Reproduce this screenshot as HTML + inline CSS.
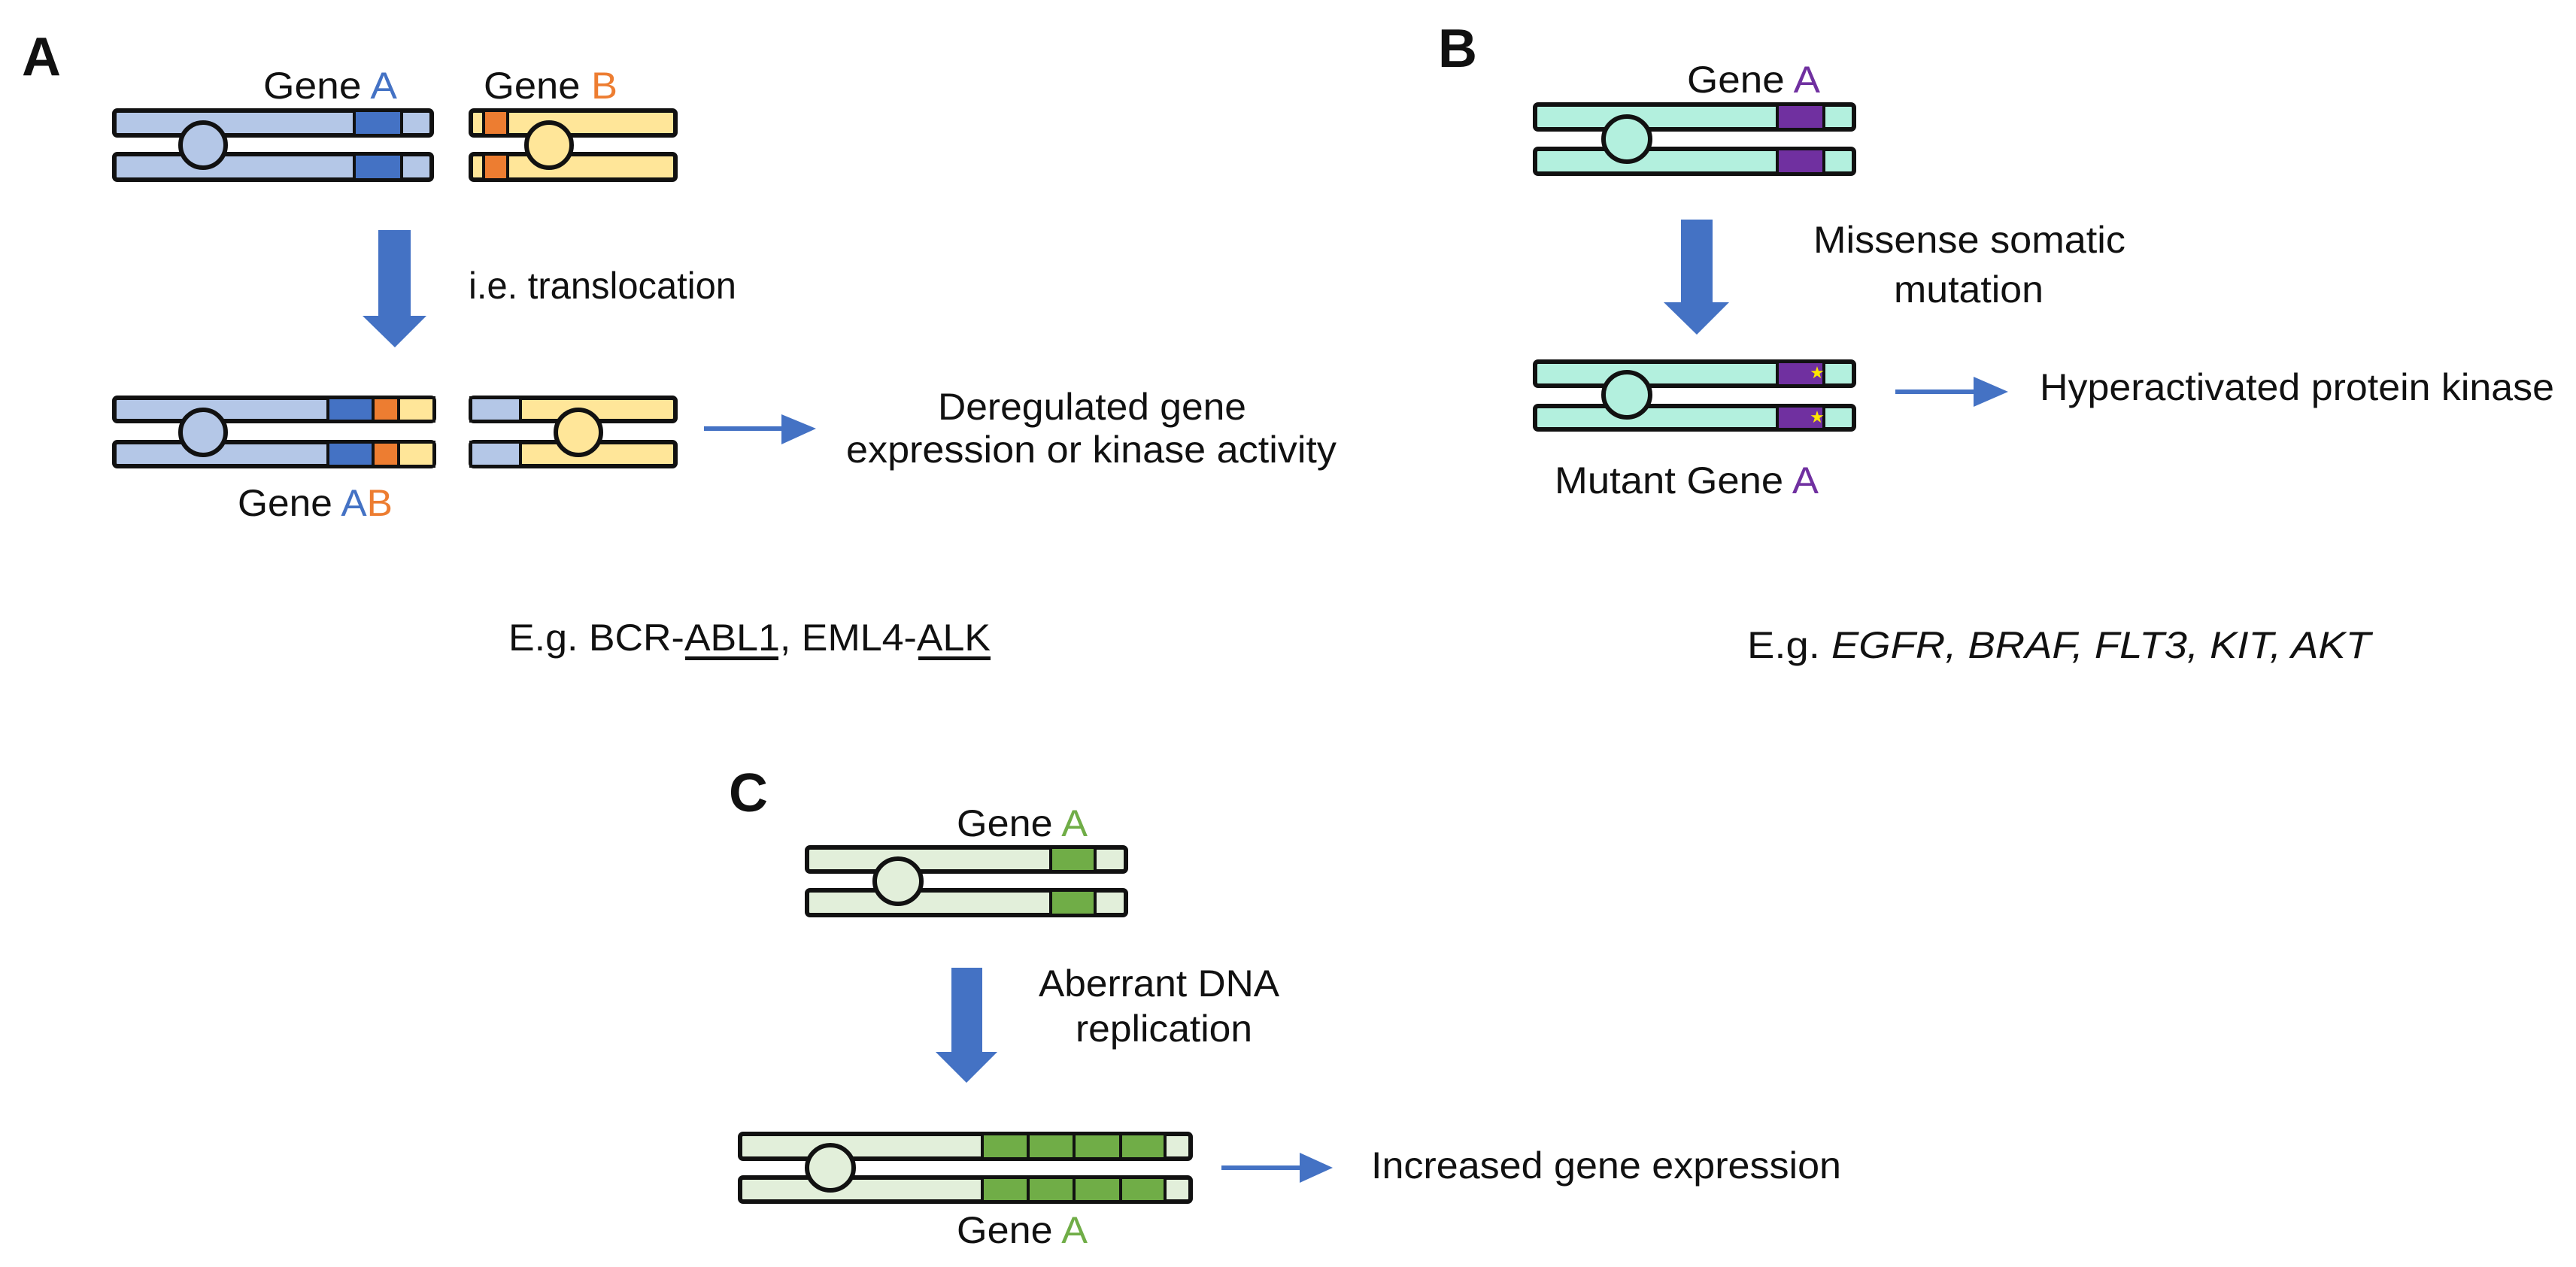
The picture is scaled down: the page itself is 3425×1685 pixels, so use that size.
<!DOCTYPE html>
<html><head><meta charset="utf-8"><style>html,body{margin:0;padding:0;background:#fff;}svg{display:block}</style></head>
<body>
<svg width="3425" height="1685" viewBox="0 0 3425 1685" xmlns="http://www.w3.org/2000/svg" font-family="Liberation Sans, Arial, sans-serif">
<rect width="3425" height="1685" fill="#fff"/>
<defs>
<marker id="ah" markerWidth="10" markerHeight="10" refX="0" refY="5" orient="auto" markerUnits="userSpaceOnUse"></marker>
</defs>
<g stroke="#111" stroke-width="6">
<!-- Panel A top: gene A -->
<rect x="152" y="147" width="422" height="33" rx="4" fill="#b4c7e7"/>
<rect x="152" y="205" width="422" height="34" rx="4" fill="#b4c7e7"/>
<rect x="471" y="147" width="63" height="33" fill="#4472c4" stroke-width="4"/>
<rect x="471" y="205" width="63" height="34" fill="#4472c4" stroke-width="4"/>
<ellipse cx="270" cy="193" rx="30" ry="30" fill="#b4c7e7"/>
<!-- gene B -->
<rect x="626" y="147" width="272" height="33" rx="4" fill="#ffe699"/>
<rect x="626" y="205" width="272" height="34" rx="4" fill="#ffe699"/>
<rect x="643" y="147" width="32" height="33" fill="#ed7d31" stroke-width="4"/>
<rect x="643" y="205" width="32" height="34" fill="#ed7d31" stroke-width="4"/>
<ellipse cx="730" cy="193" rx="30" ry="30" fill="#ffe699"/>
<!-- Panel A bottom -->
<rect x="152" y="529" width="425" height="31" rx="4" fill="#b4c7e7"/>
<rect x="152" y="588" width="425" height="32" rx="4" fill="#b4c7e7"/>
<rect x="436" y="529" width="60" height="31" fill="#4472c4" stroke-width="4"/>
<rect x="436" y="588" width="60" height="32" fill="#4472c4" stroke-width="4"/>
<rect x="496" y="529" width="34" height="31" fill="#ed7d31" stroke-width="4"/>
<rect x="496" y="588" width="34" height="32" fill="#ed7d31" stroke-width="4"/>
<rect x="530" y="529" width="47" height="31" fill="#ffe699" stroke-width="4"/>
<rect x="530" y="588" width="47" height="32" fill="#ffe699" stroke-width="4"/>
<ellipse cx="270" cy="575" rx="30" ry="30" fill="#b4c7e7"/>
<rect x="626" y="529" width="272" height="31" rx="4" fill="#ffe699"/>
<rect x="626" y="588" width="272" height="32" rx="4" fill="#ffe699"/>
<rect x="626" y="529" width="66" height="31" fill="#b4c7e7" stroke-width="4"/>
<rect x="626" y="588" width="66" height="32" fill="#b4c7e7" stroke-width="4"/>
<ellipse cx="769" cy="575" rx="30" ry="30" fill="#ffe699"/>

<!-- Panel B top -->
<rect x="2041" y="139" width="424" height="33" rx="4" fill="#b3f0de"/>
<rect x="2041" y="198" width="424" height="33" rx="4" fill="#b3f0de"/>
<rect x="2363" y="139" width="62" height="33" fill="#7030a0" stroke-width="4"/>
<rect x="2363" y="198" width="62" height="33" fill="#7030a0" stroke-width="4"/>
<ellipse cx="2163" cy="185" rx="31" ry="30" fill="#b3f0de"/>
<!-- Panel B bottom -->
<rect x="2041" y="481" width="424" height="32" rx="4" fill="#b3f0de"/>
<rect x="2041" y="540" width="424" height="31" rx="4" fill="#b3f0de"/>
<rect x="2363" y="481" width="62" height="32" fill="#7030a0" stroke-width="4"/>
<rect x="2363" y="540" width="62" height="31" fill="#7030a0" stroke-width="4"/>
<ellipse cx="2163" cy="525" rx="31" ry="30" fill="#b3f0de"/>

<!-- Panel C top -->
<rect x="1073" y="1127" width="424" height="32" rx="4" fill="#e2efda"/>
<rect x="1073" y="1184" width="424" height="33" rx="4" fill="#e2efda"/>
<rect x="1397" y="1127" width="59" height="32" fill="#70ad47" stroke-width="4"/>
<rect x="1397" y="1184" width="59" height="33" fill="#70ad47" stroke-width="4"/>
<ellipse cx="1194" cy="1172" rx="31" ry="30" fill="#e2efda"/>
<!-- Panel C bottom -->
<rect x="984" y="1508" width="599" height="33" rx="4" fill="#e2efda"/>
<rect x="984" y="1566" width="599" height="32" rx="4" fill="#e2efda"/>
<g stroke-width="4" fill="#70ad47">
<rect x="1306" y="1508" width="61" height="33"/><rect x="1367" y="1508" width="61" height="33"/><rect x="1428" y="1508" width="62" height="33"/><rect x="1490" y="1508" width="59" height="33"/>
<rect x="1306" y="1566" width="61" height="32"/><rect x="1367" y="1566" width="61" height="32"/><rect x="1428" y="1566" width="62" height="32"/><rect x="1490" y="1566" width="59" height="32"/>
</g>
<ellipse cx="1104" cy="1553" rx="31" ry="30" fill="#e2efda"/>
</g>
<!-- stars -->
<text x="2416" y="503" font-size="22" fill="#ffe600" text-anchor="middle">★</text>
<text x="2416" y="562" font-size="22" fill="#ffe600" text-anchor="middle">★</text>

<!-- big arrows -->
<g fill="#4472c4">
<polygon points="503,306 546,306 546,420 567,420 525,462 482,420 503,420"/>
<polygon points="2235,292 2277,292 2277,402 2299,402 2256,445 2212,402 2235,402"/>
<polygon points="1265,1287 1306,1287 1306,1399 1326,1399 1285,1440 1244,1399 1265,1399"/>
<!-- small arrows -->
<rect x="936" y="567" width="105" height="6"/><polygon points="1039,551 1085,570 1039,591"/>
<rect x="2520" y="518" width="105" height="6"/><polygon points="2624,501 2670,521 2624,541"/>
<rect x="1624" y="1550" width="105" height="6"/><polygon points="1728,1533 1772,1553 1728,1573"/>
</g>

<!-- text -->
<g font-size="50" fill="#111">
<text x="29" y="100" font-size="72" font-weight="bold">A</text>
<text x="1912" y="89" font-size="72" font-weight="bold">B</text>
<text x="969" y="1079" font-size="72" font-weight="bold">C</text>

<text x="350" y="131" textLength="178" lengthAdjust="spacingAndGlyphs">Gene <tspan fill="#4472c4">A</tspan></text>
<text x="643" y="131" textLength="178" lengthAdjust="spacingAndGlyphs">Gene <tspan fill="#ed7d31">B</tspan></text>
<text x="623" y="397" textLength="356" lengthAdjust="spacingAndGlyphs">i.e. translocation</text>
<text x="1452" y="558" text-anchor="middle" textLength="410" lengthAdjust="spacingAndGlyphs">Deregulated gene</text>
<text x="1125" y="615" textLength="652" lengthAdjust="spacingAndGlyphs">expression or kinase activity</text>
<text x="316" y="686" textLength="206" lengthAdjust="spacingAndGlyphs">Gene <tspan fill="#4472c4">A</tspan><tspan fill="#ed7d31">B</tspan></text>
<text x="676" y="865" textLength="641" lengthAdjust="spacingAndGlyphs">E.g. BCR-ABL1, EML4-ALK</text>
<rect x="911" y="873" width="124" height="5"/>
<rect x="1221" y="873" width="96" height="5"/>

<text x="2243" y="123" textLength="177" lengthAdjust="spacingAndGlyphs">Gene <tspan fill="#7030a0">A</tspan></text>
<text x="2411" y="336" textLength="415" lengthAdjust="spacingAndGlyphs">Missense somatic</text>
<text x="2518" y="402" textLength="199" lengthAdjust="spacingAndGlyphs">mutation</text>
<text x="2712" y="532" textLength="684" lengthAdjust="spacingAndGlyphs">Hyperactivated protein kinase</text>
<text x="2067" y="656" textLength="351" lengthAdjust="spacingAndGlyphs">Mutant Gene <tspan fill="#7030a0">A</tspan></text>
<text x="2323" y="875" textLength="829" lengthAdjust="spacingAndGlyphs">E.g. <tspan font-style="italic">EGFR, BRAF,  FLT3, KIT, AKT</tspan></text>

<text x="1272" y="1112" textLength="174" lengthAdjust="spacingAndGlyphs">Gene <tspan fill="#70ad47">A</tspan></text>
<text x="1381" y="1325" textLength="320" lengthAdjust="spacingAndGlyphs">Aberrant DNA</text>
<text x="1430" y="1385" textLength="235" lengthAdjust="spacingAndGlyphs">replication</text>
<text x="1823" y="1567" textLength="625" lengthAdjust="spacingAndGlyphs">Increased gene expression</text>
<text x="1272" y="1653" textLength="174" lengthAdjust="spacingAndGlyphs">Gene <tspan fill="#70ad47">A</tspan></text>
</g>
</svg>
</body></html>
